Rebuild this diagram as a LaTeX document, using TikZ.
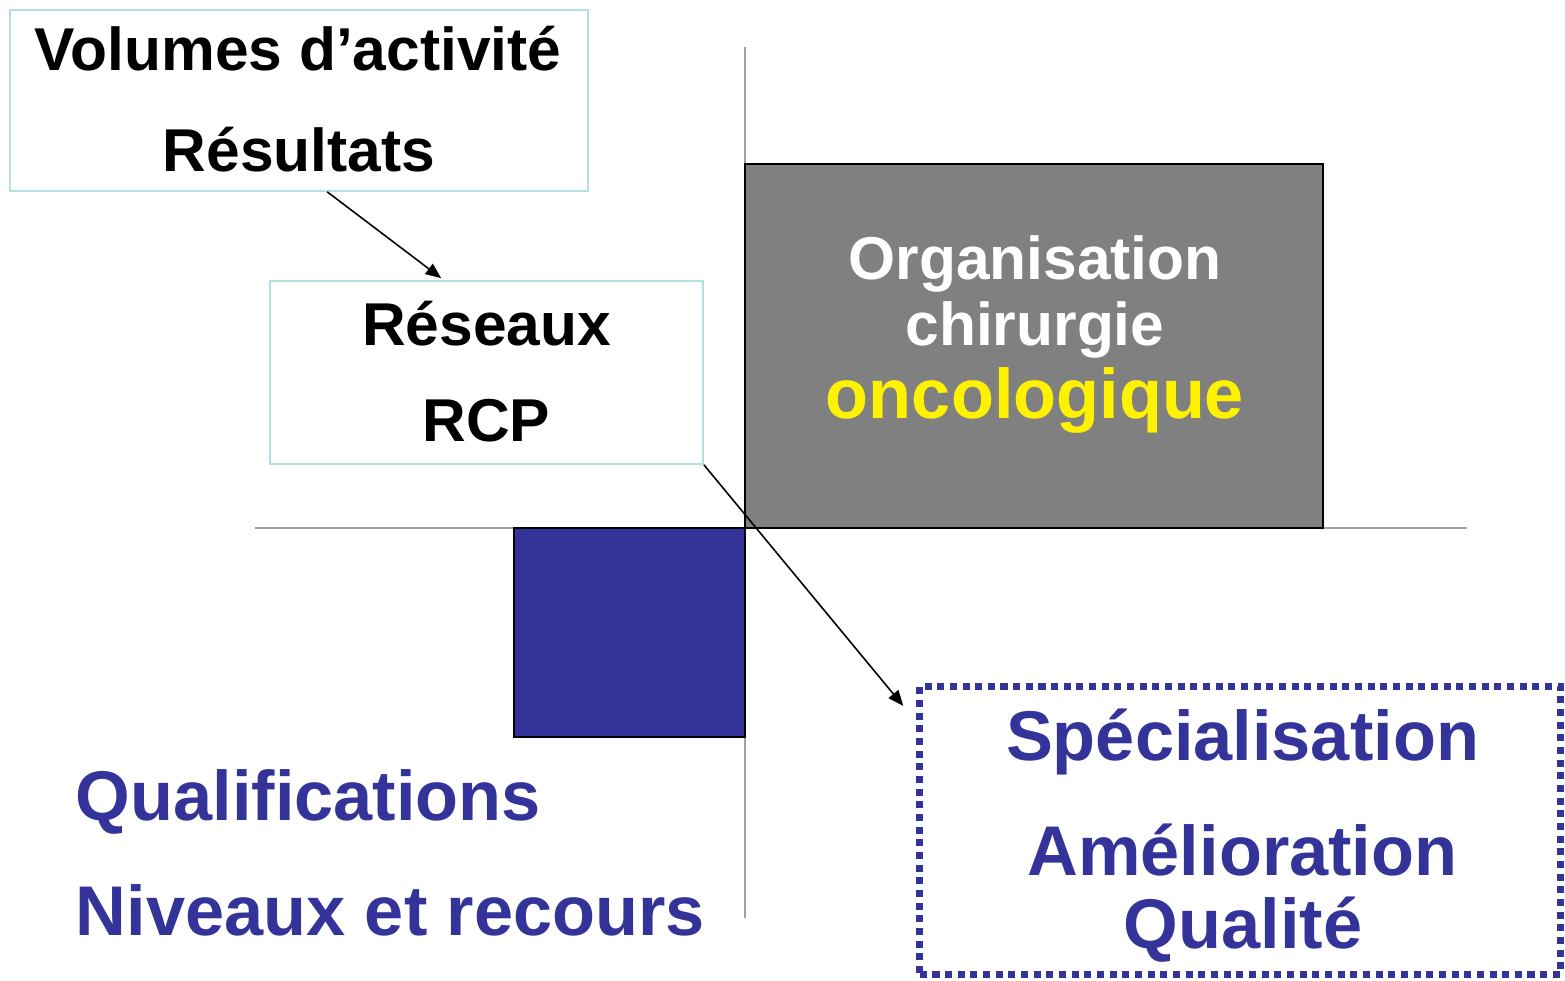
\documentclass[tikz,border=0pt]{standalone}
\usepackage{fontspec}
\setmainfont{Liberation Sans}
\usepackage{xcolor}
\usetikzlibrary{arrows.meta}
\definecolor{boxcyan}{HTML}{B4DFE3}
\definecolor{axisgray}{HTML}{A0A0A0}
\definecolor{darkgray}{HTML}{808080}
\definecolor{deepblue}{HTML}{333399}
\tikzset{
  txtbox/.style={draw=boxcyan, line width=0.45pt, inner sep=0pt},
  blk/.style={font=\bfseries\fontsize{17.2}{20}\selectfont, anchor=base, inner sep=0pt},
  big/.style={font=\bfseries\fontsize{20}{24}\selectfont, anchor=base, inner sep=0pt},
  arr/.style={line width=0.45pt, -{Triangle[length=4.4pt,width=3.6pt]}}
}
\begin{document}
\begin{tikzpicture}[x=0.01cm, y=-0.01cm]
\useasboundingbox (0,0) rectangle (1565,981);
% Draw the axes
\draw[axisgray, line width=0.45pt] (745,47) -- (745,918);
\draw[axisgray, line width=0.45pt] (255,528) -- (1467,528);
% Draw the two filled blocks
\node (orgblock) [fill=darkgray, draw=black, line width=0.4pt, minimum width=5.78cm, minimum height=3.64cm, inner sep=0pt] at (1034,346) {};
\node (qualblock) [fill=deepblue, draw=black, line width=0.4pt, minimum width=2.31cm, minimum height=2.09cm, inner sep=0pt] at (629.5,632.5) {};
% Draw the text boxes
\node (volbox) [txtbox, minimum width=5.78cm, minimum height=1.81cm] at (299,100.5) {};
\node (resbox) [txtbox, minimum width=4.33cm, minimum height=1.83cm] at (486.5,372.5) {};
\node (specbox) [draw=deepblue, line width=2pt, dash pattern=on 2pt off 1.6pt, minimum width=6.4cm, minimum height=2.88cm, inner sep=0pt] at (1240,830.5) {};
% Labels
\node[blk] (lblvol) at (298,70) {Volumes d’activité};
\node[blk] (lblresult) at (299,171) {Résultats};
\node[blk] (lblreseau) at (486.5,345) {Réseaux};
\node[blk] (lblrcp) at (486.5,441) {RCP};
\node[blk, white] (lblorg) at (1035,279) {Organisation};
\node[blk, white] (lblchir) at (1035,345) {chirurgie};
\node[big, yellow] (lblonco) at (1035,418) {oncologique};
\node[big, deepblue] (lblspec) at (1242.5,760) {Spécialisation};
\node[big, deepblue] (lblamel) at (1242.5,875) {Amélioration};
\node[big, deepblue] (lblqual) at (1243,948) {Qualité};
\node[big, deepblue, anchor=base west] (lblqualif) at (75,820) {Qualifications};
\node[big, deepblue, anchor=base west] (lblniv) at (75,935) {Niveaux et recours};
% Arrows
\draw[arr] ([xshift=3.18cm]volbox.south west) -- ([xshift=1.72cm, yshift=0.02cm]resbox.north west);
\draw[arr] (resbox.south east) -- ([xshift=-0.13cm, yshift=-0.23cm]specbox.north west);
\end{tikzpicture}
\end{document}
